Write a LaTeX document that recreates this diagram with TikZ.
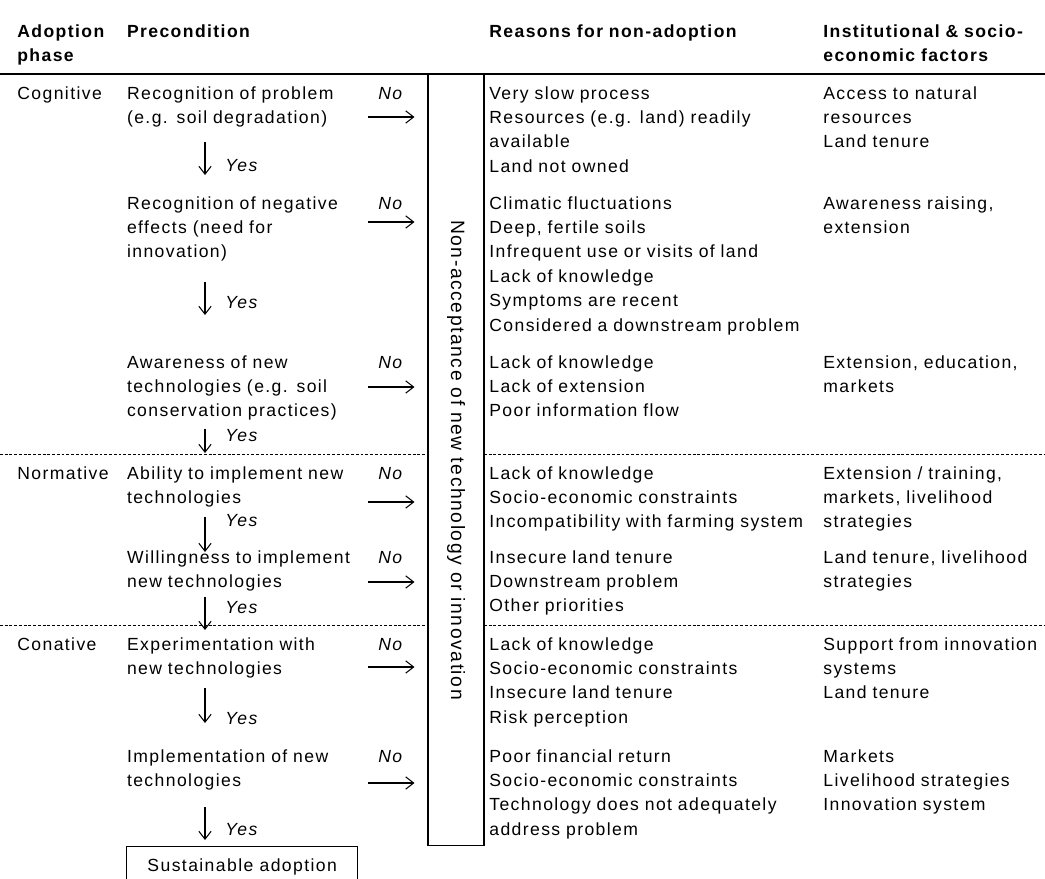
\documentclass[tikz,border=0pt]{standalone}
\usepackage{fontspec}
\setmainfont{Liberation Sans}[LetterSpace=8]
\usetikzlibrary{arrows.meta}

\tikzset{
  txt/.style={anchor=base west, inner sep=0pt, align=left, text width=#1,
    font=\fontsize{10}{13.94}\selectfont},
  txt/.default=6.8cm,
  hdr/.style={txt=5cm, font=\fontsize{10}{13.94}\selectfont\bfseries},
  lab/.style={anchor=base west, inner sep=0pt, font=\fontsize{10}{13.94}\selectfont\itshape},
  flow/.style={-{Straight Barb[length=4.5pt,width=7pt]}, line width=0.6pt},
  noflow/.style={flow, shorten >=0.26cm},
  sep/.style={line width=0.5pt, dash pattern=on 1.6pt off 1.1pt},
}

\begin{document}
\begin{tikzpicture}[x=0.02cm, y=-0.02cm]
  \clip (0,0) rectangle (1045,879);

  % Kopfzeile
  \node[hdr] (hphase) at (17,37) {Adoption\\phase};
  \node[hdr] (hpre) at (126.7,37) {Precondition};
  \node[hdr] (hrsn) at (489,37) {Reasons for non-adoption};
  \node[hdr] (hfac) at (823,37) {Institutional \& socio-\\economic factors};
  \draw[line width=0.9pt] (0,74) -- (1045,74);

  % Kasten Nicht-Akzeptanz
  \node[draw, line width=0.6pt, minimum width=1.12cm, minimum height=15.44cm, inner sep=0pt] (nonacc) at (456,460) {};
  \node[rotate=-90, inner sep=0pt, font=\fontsize{11}{13}\selectfont] (nonacctxt) at (nonacc.center) {Non-acceptance of new technology or innovation};

  % Trennlinien
  \draw[sep] (0,454) -- (428,454) (484,454) -- (1045,454);
  \draw[sep] (0,625) -- (428,625) (484,625) -- (1045,625);

  % Phasen
  \node[txt=3cm] (cog) at (17,99) {Cognitive};
  \node[txt=3cm] (norm) at (17,479) {Normative};
  \node[txt=3cm] (con) at (17,650) {Conative};

  % Voraussetzungen
  \node[txt=5cm] (pre1) at (126.7,99) {Recognition of problem\\(e.g. soil degradation)};
  \node[txt=5cm] (pre2) at (126.7,209) {Recognition of negative\\effects (need for\\innovation)};
  \node[txt=5cm] (pre3) at (126.7,368) {Awareness of new\\technologies (e.g. soil\\conservation practices)};
  \node[txt=5cm] (pre4) at (126.7,479) {Ability to implement new\\technologies};
  \node[txt=5cm] (pre5) at (126.7,563) {Willingness to implement\\new technologies};
  \node[txt=5cm] (pre6) at (126.7,650) {Experimentation with\\new technologies};
  \node[txt=5cm] (pre7) at (126.7,762) {Implementation of new\\technologies};
  \node[draw, line width=0.6pt, minimum width=4.62cm, minimum height=0.826cm, inner sep=0pt,
    font=\fontsize{10}{13.94}\selectfont] (sust) at (242.2,867.3) {Sustainable adoption};

  % Gruende
  \node[txt] (rsn1) at (489,99) {Very slow process\\Resources (e.g. land) readily\\available\\Land not owned};
  \node[txt] (rsn2) at (489,209) {Climatic fluctuations\\Deep, fertile soils\\Infrequent use or visits of land\\Lack of knowledge\\Symptoms are recent\\Considered a downstream problem};
  \node[txt] (rsn3) at (489,368) {Lack of knowledge\\Lack of extension\\Poor information flow};
  \node[txt] (rsn4) at (489,479) {Lack of knowledge\\Socio-economic constraints\\Incompatibility with farming system};
  \node[txt] (rsn5) at (489,563) {Insecure land tenure\\Downstream problem\\Other priorities};
  \node[txt] (rsn6) at (489,650) {Lack of knowledge\\Socio-economic constraints\\Insecure land tenure\\Risk perception};
  \node[txt] (rsn7) at (489,762) {Poor financial return\\Socio-economic constraints\\Technology does not adequately\\address problem};

  % Faktoren
  \node[txt=5cm] (fac1) at (823,99) {Access to natural\\resources\\Land tenure};
  \node[txt=5cm] (fac2) at (823,209) {Awareness raising,\\extension};
  \node[txt=5cm] (fac3) at (823,368) {Extension, education,\\markets};
  \node[txt=5cm] (fac4) at (823,479) {Extension / training,\\markets, livelihood\\strategies};
  \node[txt=5cm] (fac5) at (823,563) {Land tenure, livelihood\\strategies};
  \node[txt=5cm] (fac6) at (823,650) {Support from innovation\\systems\\Land tenure};
  \node[txt=5cm] (fac7) at (823,762) {Markets\\Livelihood strategies\\Innovation system};

  % Nein-Pfeile
  \foreach \b/\y [count=\i] in {99/117, 209/222, 368/387, 479/502, 563/582, 650/667, 762/783} {
    \node[lab] (no\i) at (378,\b) {No};
    \coordinate (s\i) at (368,\y);
    \draw[noflow] (s\i) -- (s\i -| nonacc.west);
  }

  % Ja-Pfeile
  \foreach \a/\e/\b [count=\i] in {142/175/171.7, 282/315/308, 429/453/441.7, 517/552/526.7, 597/630/613, 688/723/724, 807/840/835} {
    \coordinate (d\i) at (205,\a);
    \coordinate (e\i) at (205,\e);
    \draw[flow] (d\i) -- (e\i);
    \node[lab] (yes\i) at (225,\b) {Yes};
  }
\end{tikzpicture}
\end{document}
